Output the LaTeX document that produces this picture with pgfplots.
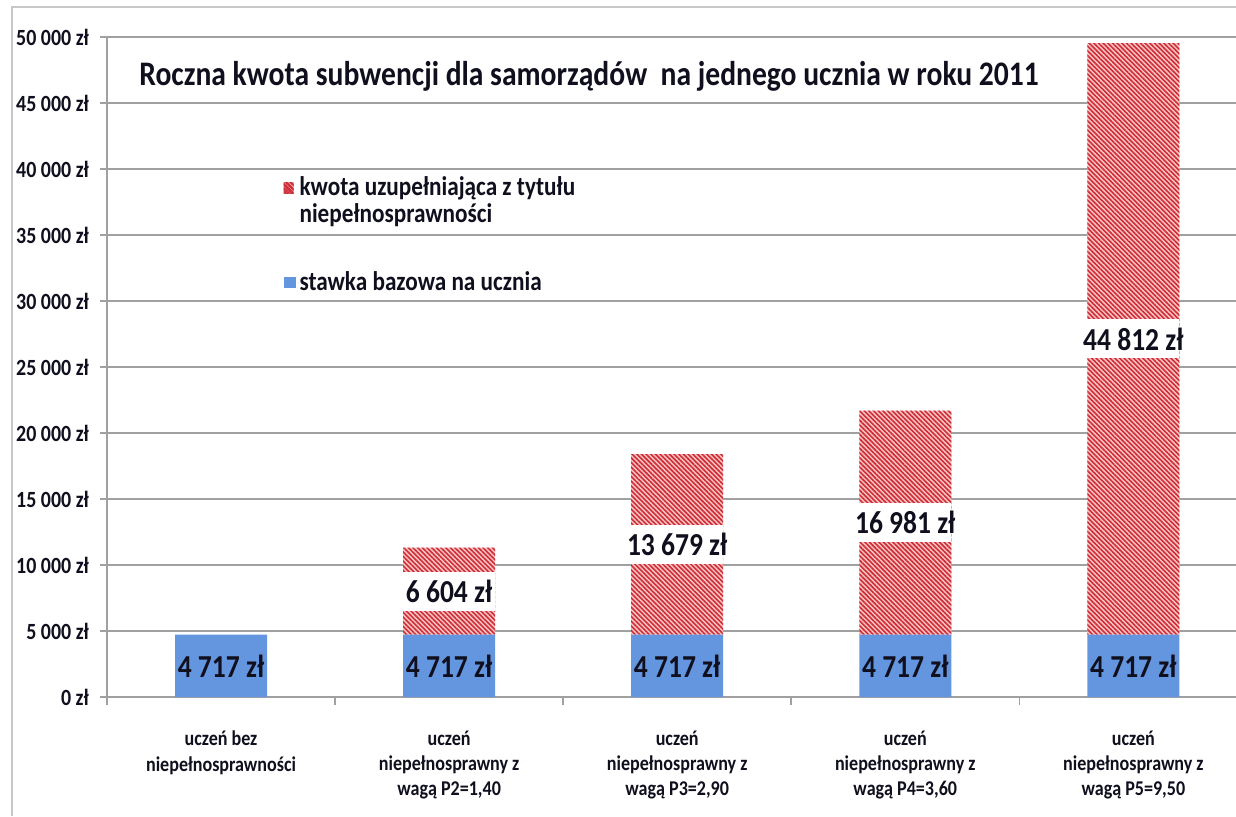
\documentclass[border=0pt]{standalone}
\usepackage{fontspec}
\setmainfont{Carlito}[FakeStretch=0.86]
\usepackage{pgfplots}
\pgfplotsset{compat=1.18}
\usepackage{pgfplotstable}
\usetikzlibrary{patterns.meta}
\definecolor{bazowa}{RGB}{100,150,224}
\definecolor{kreska}{RGB}{205,45,55}
\definecolor{tlo}{RGB}{251,196,196}
\definecolor{siatka}{RGB}{160,160,160}
\definecolor{ramka}{RGB}{200,200,200}
\definecolor{napis}{RGB}{15,15,30}

% kwoty w zl: stawka bazowa i kwota uzupelniajaca
\pgfplotstableread{
x base add
0 4717 0
1 4717 6604
2 4717 13679
3 4717 16981
4 4717 44812
}\dane

\begin{document}
\begin{tikzpicture}
\useasboundingbox (0,0) rectangle (618pt,408pt);
\fill[white] (0,0) rectangle (618pt,408pt);
\draw[ramka, line width=1pt] (6pt,0) -- (6pt,404.5pt) -- (618pt,404.5pt);
\begin{axis}[
  at={(53.5pt,59.5pt)}, anchor=south west,
  scale only axis, width=564.5pt, height=330pt,
  ybar stacked, bar width=46pt,
  xmin=-0.5, xmax=4.45, ymin=0, ymax=50000, enlargelimits=false,
  axis x line*=bottom, axis y line*=left,
  axis line style={siatka, line width=0.8pt},
  ymajorgrids, grid style={siatka, line width=0.8pt},
  tick style={siatka, line width=0.8pt}, tick align=outside,
  major tick length=3.5pt, minor tick length=4pt,
  xtick={0,...,4}, major x tick style={draw=none},
  minor xtick={-0.5,0.5,1.5,2.5,3.5},
  xticklabels={{uczeń bez\\niepełnosprawności},
    {uczeń\\niepełnosprawny z\\wagą P2=1,40},
    {uczeń\\niepełnosprawny z\\wagą P3=2,90},
    {uczeń\\niepełnosprawny z\\wagą P4=3,60},
    {uczeń\\niepełnosprawny z\\wagą P5=9,50}},
  xticklabel style={align=center, text=napis,
    font=\fontsize{10.5}{12.6}\selectfont\bfseries, yshift=-10pt},
  ytick={0,5000,...,50000}, scaled y ticks=false,
  /pgf/number format/.cd, fixed, precision=0, 1000 sep={\ }, assume math mode=true,
  /pgfplots/.cd,
  yticklabel={\pgfmathprintnumber{\tick}~zł},
  yticklabel style={text=napis, font=\fontsize{11.6}{13}\selectfont\bfseries, xshift=-2pt},
  title={Roczna kwota subwencji dla samorządów\ \ na jednego ucznia w roku 2011},
  title style={at={(axis description cs:0.427,0.922)}, anchor=center,
    text=napis, font=\fontsize{17.2}{20}\selectfont\bfseries},
  legend style={at={(axis description cs:0.156,0.795)}, anchor=north west,
    draw=none, fill=none, inner sep=0pt, row sep=19pt, text=napis,
    font=\fontsize{13.5}{13.5}\selectfont\bfseries, cells={align=left}},
  legend cell align=left, reverse legend,
]
% etykiety: pgfplots stawia je w srodku segmentu
\addplot[fill=bazowa, draw=none, point meta=explicit,
  nodes near coords={\pgfmathprintnumber{\pgfplotspointmeta}~zł},
  every node near coord/.append style={anchor=center,
    text=napis, font=\fontsize{16}{18}\selectfont\bfseries},
  legend image code/.code={\fill[bazowa] (0pt,-2.7pt) rectangle (6pt,2.8pt);}]
  table[x=x, y=base, meta=base] {\dane};
\addlegendentry{stawka bazowa na ucznia}
\addplot[fill=tlo, draw=none,
  postaction={pattern={Lines[angle=-45,distance=1.65pt,line width=0.8pt]}, pattern color=kreska},
  point meta=explicit,
  nodes near coords={\pgfmathfloatifflags{\pgfplotspointmeta}{0}{}{\setlength{\fboxsep}{0pt}\colorbox{white}{\parbox[c][19.5pt][c]{46pt}{\centering\makebox[0pt]{\pgfmathprintnumber{\pgfplotspointmeta}~zł}}}}},
  every node near coord/.append style={anchor=center, inner sep=0pt,
    text=napis, font=\fontsize{16}{18}\selectfont\bfseries},
  legend image code/.code={\path[fill=tlo, postaction={pattern={Lines[angle=-45,distance=1.5pt,line width=0.7pt]}, pattern color=kreska}] (0pt,3.6pt) rectangle (5pt,9.4pt);}]
  table[x=x, y=add, meta=add] {\dane};
\addlegendentry{kwota uzupełniająca z tytułu\\niepełnosprawności}
\end{axis}
\end{tikzpicture}
\end{document}
